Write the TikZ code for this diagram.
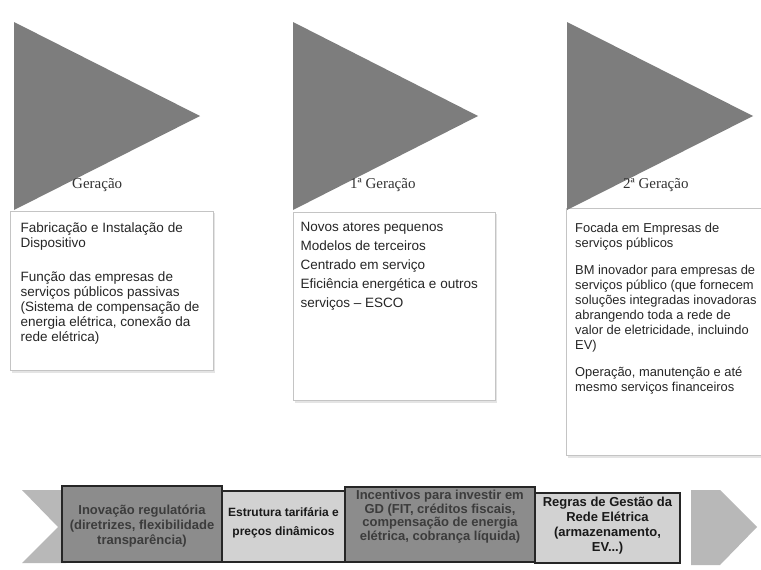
\documentclass[tikz,border=0pt]{standalone}
\usepackage{fontspec}
\setmainfont{Liberation Sans}
\newfontfamily\serifgen{Liberation Serif}
\definecolor{trigray}{HTML}{7D7D7D}
\definecolor{boxline}{HTML}{C4C4C4}
\definecolor{shadowc}{HTML}{E4E4E4}
\definecolor{darkfill}{HTML}{8C8C8C}
\definecolor{lightfill}{HTML}{D2D2D2}
\definecolor{bandfill}{HTML}{B8B8B8}
\definecolor{darktext}{HTML}{3C3C3C}
\tikzset{
  tri/.style={fill=trigray, draw=none},
  infobox/.style={draw=boxline, line width=0.9pt, fill=white},
  boxshadow/.style={fill=shadowc, draw=none},
  boxtext/.style={anchor=north west, inner sep=0pt, align=left, text=black!85},
  genlabel/.style={anchor=base west, inner sep=0pt, font=\serifgen\fontsize{15}{17}\selectfont, text=black!80},
  darkbox/.style={draw=black!85, line width=1.2pt, fill=darkfill},
  lightbox/.style={draw=black!85, line width=1.2pt, fill=lightfill},
  bandtext/.style={inner sep=0pt, align=center, font=\bfseries},
  bandpiece/.style={fill=bandfill, draw=none}
}
\begin{document}
\begin{tikzpicture}[x=1pt,y=-1pt]
\useasboundingbox (0,0) rectangle (761,570);
\fill[white] (0,0) rectangle (761,570);

% info boxes with faint shadows
\fill[boxshadow] (12,213) rectangle (215,373);
\draw[infobox] (10,211) rectangle (213,370);
\fill[boxshadow] (295,214) rectangle (497,403);
\draw[infobox] (293,212) rectangle (495,400);
\fill[boxshadow] (568,210) rectangle (764,458);
\draw[infobox] (566,208) rectangle (764,455);

% triangles
\fill[tri] (14,22) -- (200,116) -- (14,210) -- cycle;
\fill[tri] (293,22) -- (478,116) -- (293,210) -- cycle;
\fill[tri] (567,22) -- (753,116) -- (567,210) -- cycle;

% generation labels
\node[genlabel] (g0) at (72,188) {Geração};
\node[genlabel] (g1) at (350,188) {1ª Geração};
\node[genlabel] (g2) at (623,188) {2ª Geração};

% box texts
\node[boxtext, font=\fontsize{13.5}{15}\selectfont] (t0) at (20.5,221.5)
  {\strut Fabricação e Instalação de\\
   Dispositivo\\[19pt]
   Função das empresas de\\
   serviços públicos passivas\\
   (Sistema de compensação de\\
   energia elétrica, conexão da\\
   rede elétrica)};
\node[boxtext, font=\fontsize{13.5}{19}\selectfont] (t1) at (300.5,217.7)
  {\strut Novos atores pequenos\\
   Modelos de terceiros\\
   Centrado em serviço\\
   Eficiência energética e outros\\
   serviços – ESCO};
\node[boxtext, font=\fontsize{12.9}{15}\selectfont] (t2) at (575,221.5)
  {\strut Focada em Empresas de\\
   serviços públicos\\[12pt]
   BM inovador para empresas de\\
   serviços público (que fornecem\\
   soluções integradas inovadoras\\
   abrangendo toda a rede de\\
   valor de eletricidade, incluindo\\
   EV)\\[12pt]
   Operação, manutenção e até\\
   mesmo serviços financeiros};

% bottom band
\fill[bandpiece] (22,490) -- (66,490) -- (66,563) -- (22,563) -- (58,527) -- cycle;
\fill[bandpiece] (691,490) -- (720,490) -- (757,527) -- (720,565) -- (691,565) -- cycle;

\draw[darkbox] (62,486) rectangle (222,562);
\draw[lightbox] (222,491) rectangle (345,562);
\draw[darkbox] (345,487) rectangle (535,562);
\draw[lightbox] (535,493) rectangle (680,563);

\node[bandtext, text=darktext, font=\bfseries\fontsize{13}{15}\selectfont] (b0) at (142,526)
  {Inovação regulatória\\(diretrizes, flexibilidade\\transparência)};
\node[bandtext, text=black!90, font=\bfseries\fontsize{12}{19}\selectfont] (b1) at (283.5,523)
  {Estrutura tarifária e\\preços dinâmicos};
\node[bandtext, text=darktext, font=\bfseries\fontsize{13}{13.7}\selectfont] (b2) at (440,516.5)
  {Incentivos para investir em\\GD (FIT, créditos fiscais,\\compensação de energia\\elétrica, cobrança líquida)};
\node[bandtext, text=black!90, font=\bfseries\fontsize{13}{15}\selectfont] (b3) at (607.5,525.5)
  {Regras de Gestão da\\Rede Elétrica\\(armazenamento,\\EV...)};
\end{tikzpicture}
\end{document}
